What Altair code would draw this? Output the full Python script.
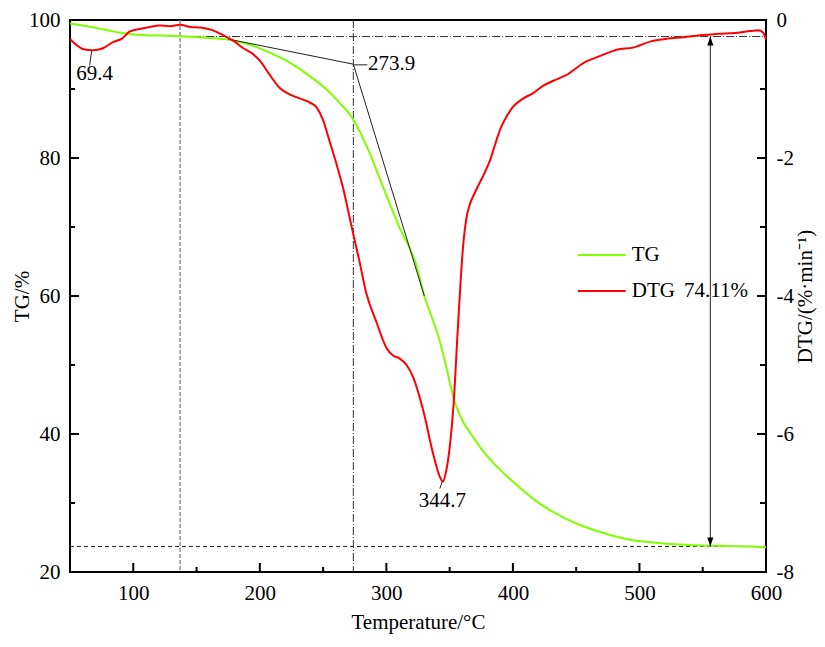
import altair as alt
import pandas as pd

# ---------------- data ----------------
T_TG = [50, 60, 68, 76, 84, 92, 100, 110, 121, 137, 155, 173, 181, 189, 197, 205, 213, 221, 229, 237,
        245, 253, 263, 272, 284, 297, 310, 324, 330, 336, 342, 347, 353, 360, 368, 374, 382, 390, 403, 416,
        429, 442, 456, 469, 482, 495, 509, 522, 535, 548, 561, 575, 588, 600]
TG_VALS = [99.5, 99.2, 98.95, 98.65, 98.35, 98.1, 97.9, 97.8, 97.74, 97.65, 97.46, 97.2, 96.95, 96.6, 96.1,
           95.5, 94.85, 94.1, 93.2, 92.2, 91.1, 89.9, 88.0, 86.1, 81.9, 76.0, 70.1, 64.3, 60.0, 56.9,
           53.6, 50.0, 45.3, 42.0, 39.7, 38.1, 36.3, 34.8, 32.6, 30.6, 29.0, 27.7, 26.6, 25.8, 25.1,
           24.6, 24.3, 24.1, 23.95, 23.85, 23.8, 23.75, 23.7, 23.6]

T_DTG = [50, 55, 60, 68, 76, 84, 91, 97, 105, 113, 121, 129, 137, 145, 153, 163, 171, 179, 187, 195,
         200, 208, 216, 224, 232, 240, 245, 250, 255, 260, 266, 272, 279, 284, 292, 300, 305, 310, 316, 321,
         329, 337, 342, 344.7, 347, 350, 353, 356.6, 360.5, 363, 366, 370, 374, 378, 382, 386, 390, 395, 400, 408,
         416, 424, 432, 442, 456, 469, 482, 495, 509, 522, 535, 548, 556, 562, 575, 588, 594, 597.6, 600]
DTG_VALS = [-0.28, -0.36, -0.42, -0.44, -0.41, -0.32, -0.27, -0.17, -0.13, -0.10,
            -0.08, -0.09, -0.07, -0.10, -0.11, -0.15, -0.22, -0.30, -0.41, -0.50,
            -0.59, -0.80, -0.99, -1.08, -1.14, -1.20, -1.27, -1.45, -1.75, -2.05,
            -2.45, -2.95, -3.52, -3.95, -4.37, -4.75, -4.86, -4.90, -5.00, -5.17,
            -5.65, -6.29, -6.61, -6.69, -6.56, -6.20, -5.60, -4.43, -3.31, -2.90,
            -2.67, -2.50, -2.35, -2.20, -2.03, -1.80, -1.58, -1.40, -1.26, -1.14,
            -1.06, -0.95, -0.88, -0.80, -0.62, -0.52, -0.43, -0.40, -0.31, -0.27,
            -0.25, -0.22, -0.21, -0.20, -0.19, -0.16, -0.15, -0.18, -0.28]

X_MAJOR = [100, 200, 300, 400, 500, 600]
X_MINOR = [150, 250, 350, 450, 550]
TG_MAJOR = [20, 40, 60, 80, 100]
TG_MINOR = [30, 50, 70, 90]
DTG_MAJOR = [0, -2, -4, -6, -8]
DTG_MINOR = [-1, -3, -5, -7]

ONSET_T = 137
INFLECT_T = 273.9
BASE_TOP = 97.6
BASE_BOTTOM = 23.7
ARROW_T = 556

# annotation segments (T, TG coordinates)
SEG_X1 = [67.1, 175, 273.9, 274.5, 344.5]
SEG_Y1 = [95.5, 97.23, 93.6, 93.5, 33.3]
SEG_X2 = [65.5, 273.9, 330, 285, 342.3]
SEG_Y2 = [93.4, 93.6, 60.0, 93.5, 32.1]

CENTER_TEXT = ["69.4", "344.7"]
CENTER_X = [69.5, 344.3]
CENTER_Y = [92.2, 30.35]
LEFT_TEXT = ["273.9", "74.11%", "TG", "DTG"]
LEFT_X = [285.5, 535.2, 493.9, 493.9]
LEFT_Y = [93.6, 60.72, 65.93, 60.72]

LEGEND_NAMES = ["TG", "DTG"]
LEGEND_Y = [65.93, 60.72]
LEGEND_X1 = [451.4, 451.4]
LEGEND_X2 = [489.1, 489.1]

GREEN = "#80FF00"
RED = "#FF0000"
FONT = "Liberation Serif"
W, H = 696, 552

xs = alt.Scale(domain=[50, 600], nice=False, zero=False)
ys_tg = alt.Scale(domain=[20, 100], nice=False, zero=False)
ys_dtg = alt.Scale(domain=[-8, 0], nice=False, zero=False)

AX_X = alt.Axis(values=X_MAJOR, ticks=False, domain=False, grid=False, labelPadding=10, format="d",
                title="Temperature/°C", titleY=50, titleBaseline="middle")
AX_TG = alt.Axis(values=TG_MAJOR, ticks=False, domain=False, grid=False, labelPadding=10,
                 title="TG/%", titleX=-38, titleY=H / 2, titleAngle=270, titleBaseline="bottom",
                 titleAlign="center")
AX_DTG = alt.Axis(orient="right", values=DTG_MAJOR, ticks=False, domain=False, grid=False,
                  labelPadding=10, labelExpr="'' + datum.value",
                  title="DTG/(%·min⁻¹)", titleX=49, titleY=H / 2, titleAngle=270,
                  titleBaseline="bottom", titleAlign="center")

tg_df = pd.DataFrame({"T": T_TG, "TG": TG_VALS})
dtg_df = pd.DataFrame({"T": T_DTG, "DTG": DTG_VALS})


def X(field):
    return alt.X(field, scale=xs, axis=AX_X)


def Y(field):
    return alt.Y(field, scale=ys_tg, axis=AX_TG)


def YD(field):
    return alt.Y(field, scale=ys_dtg, axis=AX_DTG)


# ---------------- TG group ----------------
vline_onset = alt.Chart(pd.DataFrame({"x": [ONSET_T]})).mark_rule(
    color="#777777", strokeWidth=1.2, strokeDash=[4, 2]).encode(x=X("x:Q"))
vline_infl = alt.Chart(pd.DataFrame({"x": [INFLECT_T]})).mark_rule(
    color="#333333", strokeWidth=1, strokeDash=[8, 2, 1, 2]).encode(x=X("x:Q"))
hline_top = alt.Chart(pd.DataFrame({"x": [ONSET_T], "x2": [600], "y": [BASE_TOP]})).mark_rule(
    color="#333333", strokeWidth=1, strokeDash=[8, 2, 1, 2]).encode(x=X("x:Q"), x2="x2:Q", y=Y("y:Q"))
hline_bot = alt.Chart(pd.DataFrame({"x": [50], "x2": [600], "y": [BASE_BOTTOM]})).mark_rule(
    color="#222222", strokeWidth=1, strokeDash=[4, 3]).encode(x=X("x:Q"), x2="x2:Q", y=Y("y:Q"))

seg_df = pd.DataFrame({"x": SEG_X1, "y": SEG_Y1, "x2": SEG_X2, "y2": SEG_Y2})
segs = alt.Chart(seg_df).mark_rule(color="#222222", strokeWidth=1).encode(
    x=X("x:Q"), y=Y("y:Q"), x2="x2:Q", y2="y2:Q")

arrow_df = pd.DataFrame({"x": [ARROW_T], "y": [BASE_TOP], "y2": [BASE_BOTTOM]})
arrow_shaft = alt.Chart(arrow_df).mark_rule(color="#222222", strokeWidth=1).encode(
    x=X("x:Q"), y=Y("y:Q"), y2="y2:Q")
arrow_up = alt.Chart(arrow_df).mark_point(
    shape="M0,-1L-0.67,1L0.67,1Z", filled=True, size=81, color="black", opacity=1,
    yOffset=4.5, strokeWidth=0).encode(x=X("x:Q"), y=Y("y:Q"))
arrow_down = alt.Chart(arrow_df).mark_point(
    shape="M0,1L-0.67,-1L0.67,-1Z", filled=True, size=81, color="black", opacity=1,
    yOffset=-4.5, strokeWidth=0).encode(x=X("x:Q"), y=Y("y2:Q"))

tg_line = alt.Chart(tg_df).mark_line(color=GREEN, strokeWidth=2, interpolate="monotone").encode(
    x=X("T:Q"), y=Y("TG:Q"))

leg_df = pd.DataFrame({"x": LEGEND_X1, "x2": LEGEND_X2, "y": LEGEND_Y, "name": LEGEND_NAMES})
legend_lines = alt.Chart(leg_df).mark_rule(strokeWidth=2).encode(
    x=X("x:Q"), x2="x2:Q", y=Y("y:Q"),
    color=alt.Color("name:N", scale=alt.Scale(domain=LEGEND_NAMES, range=[GREEN, RED]), legend=None))

center_txt = alt.Chart(pd.DataFrame({"x": CENTER_X, "y": CENTER_Y, "t": CENTER_TEXT})).mark_text(
    font=FONT, fontSize=21, align="center", baseline="middle", color="black").encode(
    x=X("x:Q"), y=Y("y:Q"), text="t:N")
left_txt = alt.Chart(pd.DataFrame({"x": LEFT_X, "y": LEFT_Y, "t": LEFT_TEXT})).mark_text(
    font=FONT, fontSize=21, align="left", baseline="middle", color="black").encode(
    x=X("x:Q"), y=Y("y:Q"), text="t:N")

x_major = alt.Chart(pd.DataFrame({"x": X_MAJOR})).mark_rule(color="black", strokeWidth=2).encode(
    x=X("x:Q"), y=alt.value(H), y2=alt.value(H - 9))
x_minor = alt.Chart(pd.DataFrame({"x": X_MINOR})).mark_rule(color="black", strokeWidth=2).encode(
    x=X("x:Q"), y=alt.value(H), y2=alt.value(H - 5))
y_major = alt.Chart(pd.DataFrame({"y": TG_MAJOR})).mark_rule(color="black", strokeWidth=2).encode(
    y=Y("y:Q"), x=alt.value(0), x2=alt.value(9))
y_minor = alt.Chart(pd.DataFrame({"y": TG_MINOR})).mark_rule(color="black", strokeWidth=2).encode(
    y=Y("y:Q"), x=alt.value(0), x2=alt.value(5))

tg_group = alt.layer(
    vline_onset, vline_infl, hline_top, hline_bot, tg_line, segs, arrow_shaft, arrow_up, arrow_down,
    legend_lines, center_txt, left_txt, x_major, x_minor, y_major, y_minor)

# ---------------- DTG group ----------------
dtg_line = alt.Chart(dtg_df).mark_line(color=RED, strokeWidth=2, interpolate="monotone").encode(
    x=X("T:Q"), y=YD("DTG:Q"))
r_major = alt.Chart(pd.DataFrame({"y": DTG_MAJOR})).mark_rule(color="black", strokeWidth=2).encode(
    y=YD("y:Q"), x=alt.value(W), x2=alt.value(W - 9))
r_minor = alt.Chart(pd.DataFrame({"y": DTG_MINOR})).mark_rule(color="black", strokeWidth=2).encode(
    y=YD("y:Q"), x=alt.value(W), x2=alt.value(W - 6))

dtg_group = alt.layer(dtg_line, r_major, r_minor)

chart = alt.layer(tg_group, dtg_group).resolve_scale(y="independent").properties(
    width=W, height=H,
    padding={"left": 62, "top": 12, "right": 51, "bottom": 62},
    autosize=alt.AutoSizeParams(type="none"),
    background="white",
).configure_view(stroke="black", strokeWidth=2).configure_axis(
    labelFont=FONT, labelFontSize=21, titleFont=FONT, titleFontSize=21, titleFontWeight="normal",
    labelColor="black", titleColor="black", labelFlush=False,
)

chart.save("out.html", embed_options={"renderer": "svg", "actions": False})
